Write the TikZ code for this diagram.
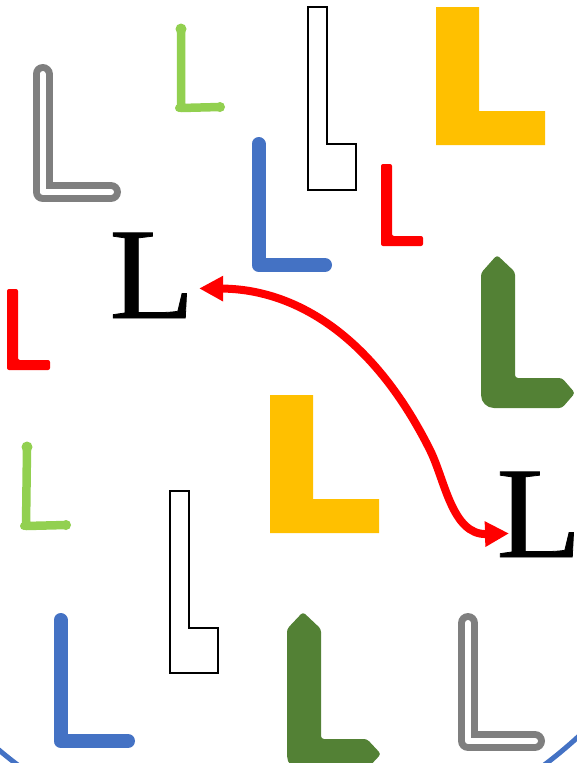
\documentclass[tikz,border=0pt]{standalone}
\usepackage{fontspec}
\setmainfont{Liberation Serif}
\newfontfamily\glyphfont{Liberation Serif}[FakeBold=0.6,FakeStretch=1.08]
\usetikzlibrary{arrows.meta}
\definecolor{lgray}{HTML}{7F7F7F}
\definecolor{lime}{HTML}{92D050}
\definecolor{lblue}{HTML}{4472C4}
\definecolor{lgold}{HTML}{FFC000}
\definecolor{lred}{HTML}{FF0000}
\definecolor{lgreen}{HTML}{538135}

\begin{document}
\begin{tikzpicture}[x=1pt,y=-1pt,
      glyph/.style={inner sep=0pt,anchor=base west,font=\glyphfont\fontsize{130}{130}\selectfont},
      tube/.style={draw=lgray,line width=7pt,double=white,double distance=6pt,line cap=round,line join=round},
      pen/.style={draw=lime,line width=8.5pt,line cap=round,line join=round},
      dot/.style={fill=lime},
      bar/.style={draw=lblue,line width=14pt,line cap=round,line join=round},
      frame/.style={draw=black,line width=1.8pt,line join=miter},
      block/.style={fill=lgold},
      stub/.style={fill=lred,rounded corners=2pt},
      arrowL/.style={fill=lgreen},
      link/.style={draw=lred,line width=8pt,{Triangle[length=24pt,width=24pt]}-{Triangle[length=24pt,width=24pt]}}]
    \useasboundingbox (0,0) rectangle (577,763);
    \clip (0,0) rectangle (577,763);
    \draw[draw=lblue,line width=5pt] (281,335) ellipse [x radius=468,y radius=520];

    \draw[tube] (42.5,74) -- (42.5,192) -- (111,192);
    \draw[tube] (468,623) -- (468,741) -- (535,741);

    \draw[pen] (181,30) -- (181,108) -- (220,107);
    \fill[dot] (181,29) circle (5.5) (220,107) circle (5) (179,108) circle (4);
    \draw[pen] (27,448) -- (26,526) -- (66,525);
    \fill[dot] (27,447) circle (5.5) (66,525) circle (5) (24,526) circle (4);

    \draw[bar] (258.5,144) -- (258.5,265) -- (325,265);
    \draw[bar] (60.5,620) -- (60.5,741) -- (128,741);

    \draw[frame] (308,7) -- (327,7) -- (327,144) -- (356,144) -- (356,190) -- (308,190) -- cycle;
    \draw[frame] (170,491) -- (189,491) -- (189,628) -- (218,628) -- (218,673) -- (170,673) -- cycle;

    \fill[block] (436,7) -- (479,7) -- (479,111) -- (545,111) -- (545,145) -- (436,145) -- cycle;
    \fill[block] (270,395) -- (313,395) -- (313,499) -- (379,499) -- (379,533) -- (270,533) -- cycle;

    \fill[stub] (381,164) -- (392,164) -- (392,236) -- (423,236) -- (423,246) -- (381,246) -- cycle;
    \fill[stub] (7,289) -- (18,289) -- (18,360) -- (50,360) -- (50,370) -- (7,370) -- cycle;

    \fill[arrowL,rounded corners=3pt] (481,273) -- (497,255) -- (515,272) -- (515,378) -- (562,378) -- (575,393)
      -- (562,408) [rounded corners=13pt] -- (481,408) [rounded corners=3pt] -- cycle;
    \fill[arrowL,rounded corners=3pt] (287,629) -- (303,612) -- (321,629) -- (321,739) -- (367,739) -- (381,754)
      -- (367,769) [rounded corners=13pt] -- (287,769) [rounded corners=3pt] -- cycle;

    \node[glyph] (l1) at (109,318) {L};
    \node[glyph] (l2) at (496,557) {L};
    \draw[link] ([xshift=4pt,yshift=-13pt]l1.east) .. controls (290,289) and (370,330) .. (430,450)
      .. controls (445,480) and (452,535) .. ([xshift=13pt,yshift=-19pt]l2.west);
  \end{tikzpicture}
\end{document}
